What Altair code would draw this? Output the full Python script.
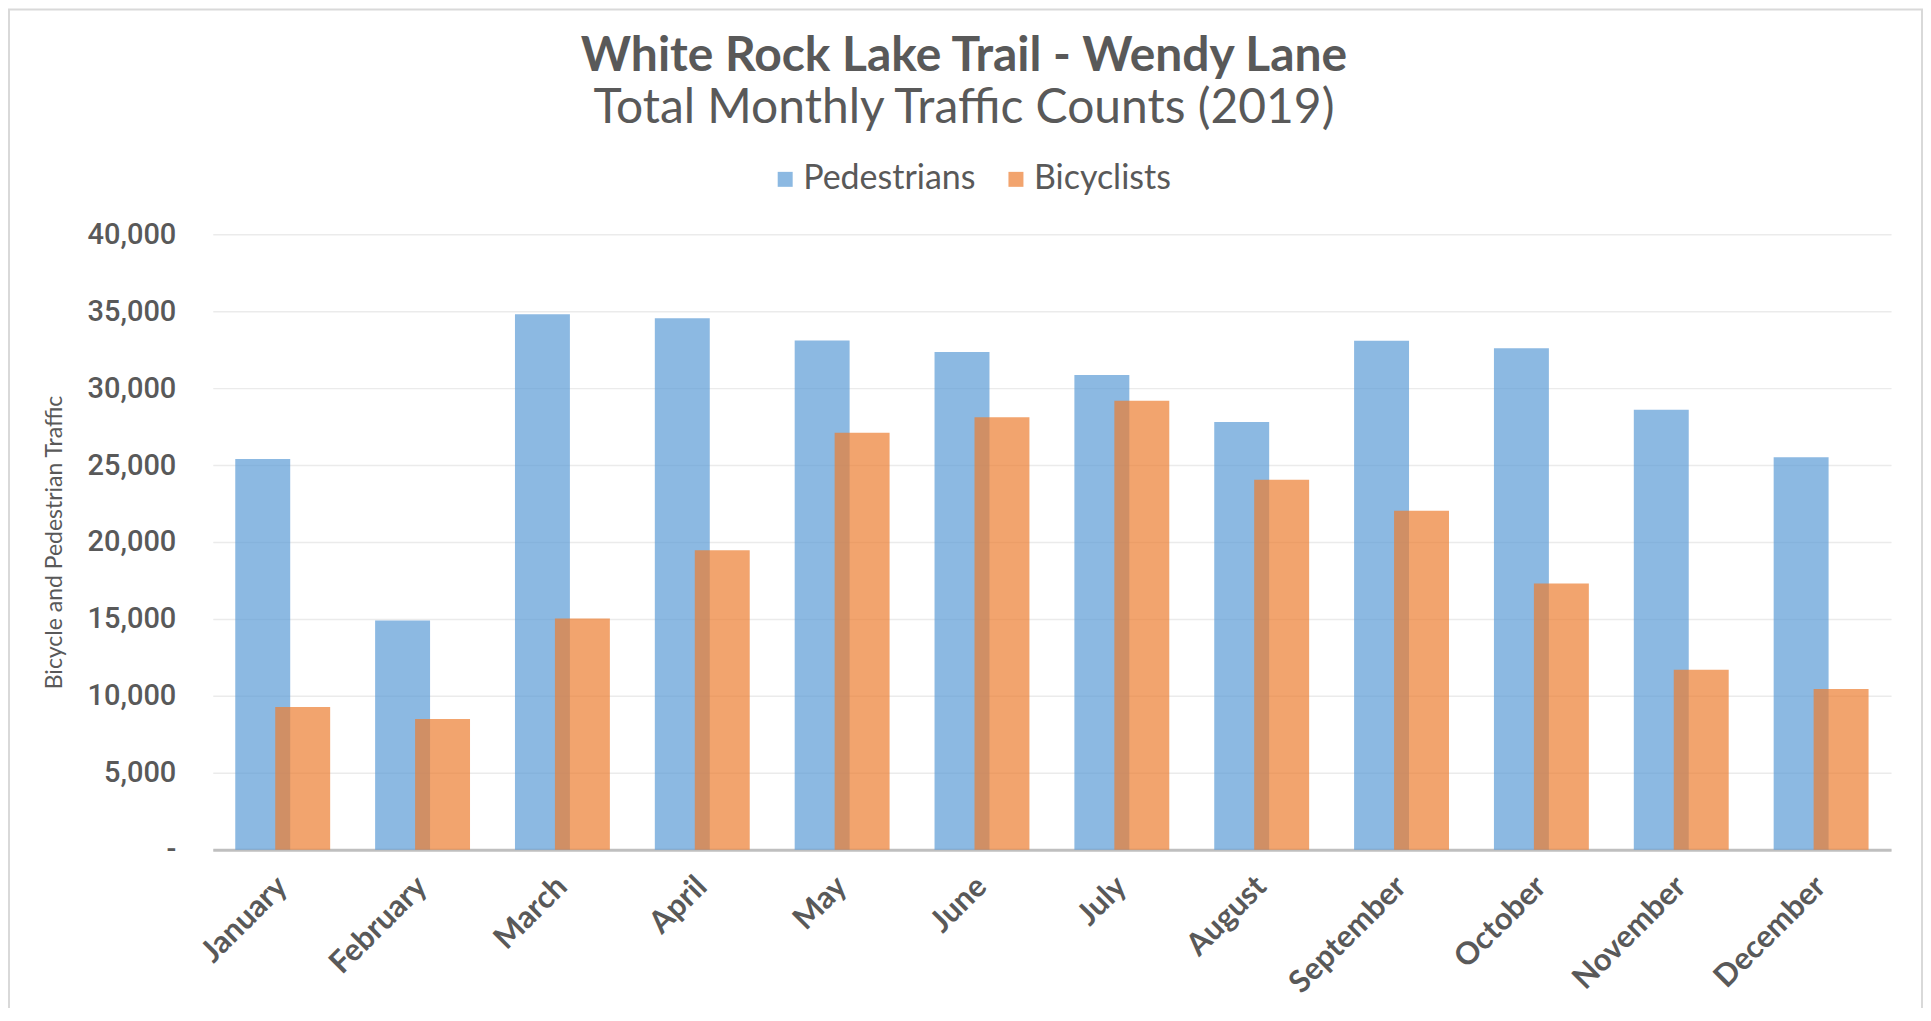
import altair as alt
import pandas as pd

months = ["January", "February", "March", "April", "May", "June", "July",
          "August", "September", "October", "November", "December"]
pedestrians = [25400, 14900, 34800, 34550, 33100, 32350, 30850, 27800, 33080, 32600, 28600, 25500]
bicyclists = [9270, 8500, 15030, 19460, 27100, 28100, 29180, 24050, 22030, 17300, 11700, 10450]
series_names = ["Pedestrians", "Bicyclists"]
series_colors = ["#5B9BD5", "#ED7D31"]
y_ticks = [0, 5000, 10000, 15000, 20000, 25000, 30000, 35000, 40000]

rows = []
for m, p, b in zip(months, pedestrians, bicyclists):
    rows.append({"month": m, "series": "Pedestrians", "value": p})
    rows.append({"month": m, "series": "Bicyclists", "value": b})
df = pd.DataFrame(rows)

GRAY = "#595959"

x_enc = alt.X("month:N", sort=months, title=None,
              scale=alt.Scale(paddingInner=0, paddingOuter=0),
              axis=alt.Axis(labelAngle=-45, labelAlign="right", labelBaseline="middle",
                            labelPadding=32, labelFontSize=31, labelFont="Lato",
                            labelFontWeight="bold", labelColor=GRAY, ticks=False,
                            domainColor="#BFBFBF", domainWidth=3, grid=False,
                            labelLimit=400))
y_enc = alt.Y("value:Q", title="Bicycle and Pedestrian Traffic",
              scale=alt.Scale(domain=[0, 40000], nice=False),
              axis=alt.Axis(values=y_ticks, domain=False, ticks=False,
                            labelExpr="datum.value == 0 ? '-\u00a0\u00a0\u00a0' : format(datum.value, ',')",
                            labelFont="Roboto", labelFontSize=29, labelFontWeight=500,
                            labelColor=GRAY, labelPadding=37, gridColor="#EBEBEB", gridWidth=1.5,
                            titleFont="Lato", titleFontSize=23, titleFontWeight="normal",
                            titleColor=GRAY, titleX=-158, titleY=308, titleAngle=270,
                            titleAlign="center", titleBaseline="middle"))
color_enc = alt.Color("series:N",
                      scale=alt.Scale(domain=series_names, range=series_colors),
                      legend=alt.Legend(title=None, orient="none", direction="horizontal",
                                        legendX=556, legendY=-72, symbolType="square",
                                        symbolSize=225, symbolOpacity=0.7,
                                        symbolStrokeWidth=0, labelFont="Lato",
                                        labelFontSize=34, labelColor=GRAY, labelOffset=1,
                                        columnPadding=23, labelLimit=400))

base = alt.Chart(df)
ped = base.transform_filter(alt.datum.series == "Pedestrians").mark_bar(
    size=55, xOffset=-20, opacity=0.7).encode(x=x_enc, y=y_enc, color=color_enc)
bik = base.transform_filter(alt.datum.series == "Bicyclists").mark_bar(
    size=55, xOffset=20, opacity=0.7).encode(x=x_enc, y=y_enc, color=color_enc)

frame = alt.Chart(pd.DataFrame({"a": [0]})).mark_rect(
    fill=None, stroke="#D9D9D9", strokeWidth=2).encode(
    x=alt.value(-204), x2=alt.value(1711), y=alt.value(-225), y2=alt.value(800))

chart = alt.layer(frame, ped, bik).properties(
    width=1680, height=616,
    title=alt.TitleParams(
        text="White Rock Lake Trail - Wendy Lane",
        subtitle="Total Monthly Traffic Counts (2019)",
        font="Lato", fontSize=48, fontWeight="bold", color=GRAY,
        subtitleFont="Lato", subtitleFontSize=48, subtitleFontWeight="normal",
        subtitleColor=GRAY, subtitlePadding=4, anchor="middle", offset=-125, dx=-88),
    autosize=alt.AutoSizeParams(type="none"),
    padding={"left": 205, "top": 226, "right": 32, "bottom": 158},
).configure_view(stroke=None)

chart.save("out.html", embed_options={"renderer": "svg", "actions": False})
